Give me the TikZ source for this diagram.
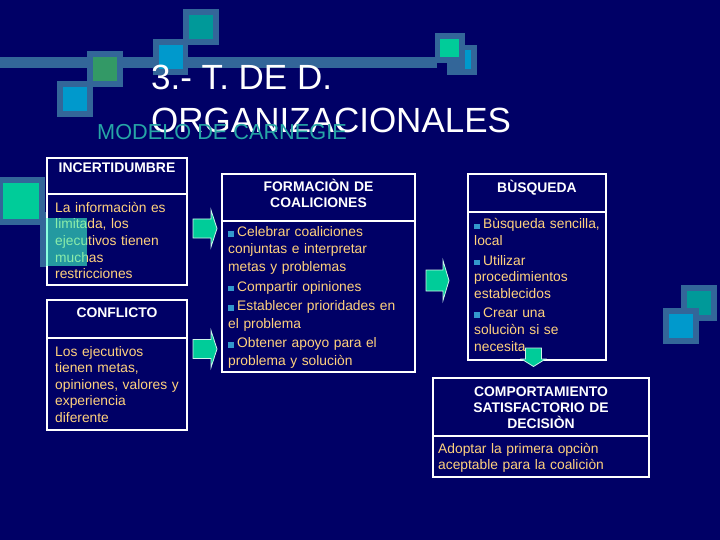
\documentclass[tikz,border=0pt]{standalone}
\usepackage{fontspec}
\setmainfont{Liberation Sans}
\usetikzlibrary{positioning}
\definecolor{slidenavy}{RGB}{0,0,102}
\definecolor{steel}{RGB}{51,102,153}
\definecolor{skyblue}{RGB}{0,153,204}
\definecolor{leafgreen}{RGB}{51,153,102}
\definecolor{deepteal}{RGB}{0,153,153}
\definecolor{mintgreen}{RGB}{0,204,153}
\definecolor{titleteal}{RGB}{38,166,166}
\definecolor{bodygold}{RGB}{255,210,125}
\definecolor{bulletblue}{RGB}{51,153,204}
\definecolor{glassteal}{RGB}{60,255,200}
\newcommand{\sqitem}{{\color{bulletblue}\rule{5.5pt}{5.5pt}}\hspace{3.5pt}}

\begin{document}
\begin{tikzpicture}[x=1pt, y=-1pt,
  frame/.style={draw=white, line width=2.5pt, fill=slidenavy, outer sep=0pt, inner sep=0pt},
  hdrtext/.style={text=white, font=\bfseries\fontsize{13.9}{16}\selectfont, align=center, text width=212pt, inner sep=0pt, anchor=base},
  bodytext/.style={text=bodygold, font=\fontsize{13.8}{16.6}\selectfont, align=left, text width=200pt, inner sep=0pt, anchor=base west},
  garrow/.style={fill=mintgreen, draw=white!80!mintgreen, line width=0.8pt, line join=miter}]
\useasboundingbox (0,0) rectangle (720,540);
\fill[slidenavy] (0,0) rectangle (720,540);

% top decoration
\fill[steel] (0,57) rectangle (437,68);
\fill[steel] (57,81) rectangle (93,117);
\fill[skyblue] (63,87) rectangle (87,111);
\fill[steel] (87,51) rectangle (123,87);
\fill[leafgreen] (93,57) rectangle (117,81);
\fill[steel] (153,39) rectangle (188,75);
\fill[skyblue] (159,45) rectangle (183,69);
\fill[steel] (183,9) rectangle (219,45);
\fill[deepteal] (189,15) rectangle (213,39);
\fill[steel] (447,45) rectangle (477,75);
\fill[skyblue] (465,50) rectangle (471,69);
\fill[steel] (435,33) rectangle (465,63);
\fill[mintgreen] (440,39) rectangle (459,57);
% left and right decoration
\fill[steel] (-3,177) rectangle (45,225);
\fill[mintgreen] (3,183) rectangle (39,219);
\fill[steel] (681,285) rectangle (717,321);
\fill[deepteal] (687,291) rectangle (711,315);
\fill[steel] (663,308) rectangle (699,344);
\fill[skyblue] (669,314) rectangle (693,338);

% title
\node[text=white, font=\fontsize{35}{40}\selectfont, inner sep=0pt, anchor=base west] (title1) at (151,90) {3.- T. DE D.};
\node[text=white, font=\fontsize{35}{40}\selectfont, inner sep=0pt, anchor=base west] (title2) at (151,133) {ORGANIZACIONALES};
\node[text=titleteal, font=\fontsize{21.7}{24}\selectfont, inner sep=0pt, anchor=base west] (model) at (97,140) {MODELO DE CARNEGIE};

% frames
\node[frame, minimum width=140pt, minimum height=36pt, anchor=north west] (incH) at (47,158) {};
\node[frame, minimum width=140pt, minimum height=91pt, below=0pt of incH] (incB) {};
\node[frame, minimum width=140pt, minimum height=38pt, anchor=north west] (conH) at (47,300) {};
\node[frame, minimum width=140pt, minimum height=92pt, below=0pt of conH] (conB) {};
\node[frame, minimum width=193pt, minimum height=47pt, anchor=north west] (coaH) at (222,174) {};
\node[frame, minimum width=193pt, minimum height=151pt, below=0pt of coaH] (coaB) {};
\node[frame, minimum width=138pt, minimum height=38pt, anchor=north west] (busH) at (468,174) {};
\node[frame, minimum width=138pt, minimum height=148pt, below=0pt of busH] (busB) {};
\node[frame, minimum width=216pt, minimum height=58pt, anchor=north west] (comH) at (433,378) {};
\node[frame, minimum width=216pt, minimum height=41pt, below=0pt of comH] (comB) {};

% headers
\node[hdrtext] (incT) at (117,173) {INCERTIDUMBRE};
\node[hdrtext] (conT) at (117,317) {CONFLICTO};
\node[hdrtext] (coaT) at (318.5,191.7) {FORMACIÒN DE\\COALICIONES};
\node[hdrtext] (busT) at (537,192.3) {BÙSQUEDA};
\node[hdrtext] (comT) at (541,396) {COMPORTAMIENTO\\SATISFACTORIO DE\\DECISIÒN};

% bodies
\node[bodytext] (incX) at (55,212.3) {La informaciòn es\\limitada, los\\ejecutivos tienen\\muchas\\restricciones};
\node[bodytext] (conX) at (55,356) {Los ejecutivos\\tienen metas,\\opiniones, valores y\\experiencia\\diferente};
\node[bodytext, font=\fontsize{13.8}{17.3}\selectfont] (coaX) at (228,236.7) {\sqitem Celebrar coaliciones\\conjuntas e interpretar\\metas y problemas\\[2.4pt]\sqitem Compartir opiniones\\[2.4pt]\sqitem Establecer prioridades en\\el problema\\[2.4pt]\sqitem Obtener apoyo para el\\problema y soluciòn};
\node[bodytext, font=\fontsize{13.8}{17}\selectfont] (busX) at (474,229) {\sqitem Bùsqueda sencilla,\\local\\[2pt]\sqitem Utilizar\\procedimientos\\establecidos\\[2pt]\sqitem Crear una\\soluciòn si se\\necesita};
\node[bodytext] (comX) at (438,453.3) {Adoptar la primera opciòn\\aceptable para la coaliciòn};

% square over the first box
\fill[steel] (40,212) rectangle (46,267);
\fill[glassteal, opacity=0.6] (46,218) rectangle (87,266);

% arrows
\draw[garrow] (193,219) -- (211,219) -- (211,210) -- (217,228.5) -- (211,247) -- (211,238) -- (193,238) -- cycle;
\draw[garrow] (193,339.5) -- (211,339.5) -- (211,330.5) -- (217,349) -- (211,367.5) -- (211,358.5) -- (193,358.5) -- cycle;
\draw[garrow] (426,270) -- (443,270) -- (443,260.5) -- (449,280.5) -- (443,300.5) -- (443,291) -- (426,291) -- cycle;
\draw[garrow] (525.5,348) -- (541.5,348) -- (541.5,359) -- (545.5,359) -- (533.5,366.5) -- (521.5,359) -- (525.5,359) -- cycle;
\end{tikzpicture}
\end{document}
